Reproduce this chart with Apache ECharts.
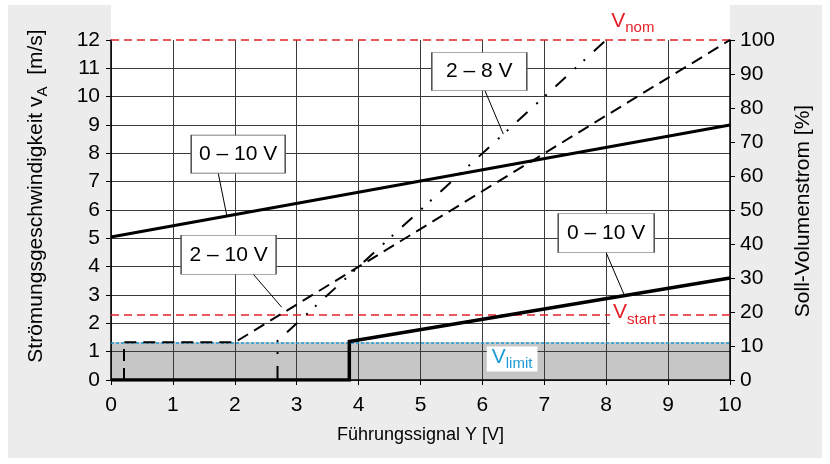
<!DOCTYPE html>
<html><head><meta charset="utf-8">
<script src="https://cdn.jsdelivr.net/npm/echarts@6/dist/echarts.min.js"></script>
<style>html,body{margin:0;padding:0;background:#fff}#c{width:830px;height:464px}</style>
</head><body><div id="c"></div>
<script>
// ---- data ----
const upper010 = [[0, 5.05], [10, 9.0]];
const lower010 = [[0, 0], [3.85, 0], [3.85, 1.36], [10, 3.6]];
const range210 = [[0.21, 0], [0.21, 1.33], [2, 1.33], [10, 12]];
const range28 = [[2.69, 0], [2.69, 1.38], [8, 12]];
const vLimit = 1.33;
const vStart = 2.3;
const vNom = 12;
const boxLabels = ['0 – 10 V', '2 – 8 V', '2 – 10 V', '0 – 10 V'];
const boxPos = [[2.055, 7.97], [5.95, 10.89], [1.90, 4.42], [8.0, 5.19]];
const leaders = [
  [[1.733, 7.29], [1.869, 5.82]],
  [[6.042, 10.21], [6.338, 8.68]],
  [[2.30, 3.73], [2.758, 2.566]],
  [[8.0, 4.49], [8.30, 2.96]]
];
const vLabelPos = { nom: [8.43, 12.61], start: [8.46, 2.31], limit: [6.48, 0.74] };

// ---- style ----
const FONT = '"Liberation Sans", Arial, Helvetica, sans-serif';
const RED = '#e42028';
const BLUE = '#1b9bd8';
const boxSizes = [[94, 38], [95, 38], [95, 39], [96, 39]];

function subRich(color) {
  return {
    v: { fontSize: 21, color: color, fill: color, fontFamily: FONT, padding: [0, 0, 4, 0] },
    s: { fontSize: 15, color: color, fill: color, fontFamily: FONT, lineHeight: 15, verticalAlign: 'bottom' }
  };
}

const chart = echarts.init(document.getElementById('c'), null, { renderer: 'canvas' });
const axisLbl = { color: '#000', fontSize: 21, fontFamily: FONT };

const option = {
  backgroundColor: '#fff',
  animation: false,
  textStyle: { fontFamily: FONT },
  graphic: [
    { id: 'panel', type: 'rect', z: -100, silent: true, shape: { x: 8, y: 5, width: 814, height: 453 }, style: { fill: '#ececec' } },
    { id: 'plotbg', type: 'rect', z: -99, silent: true, shape: { x: 111, y: 0, width: 619, height: 380 }, style: { fill: '#ffffff' } },
    {
      id: 'yname', type: 'text', z: 10, x: 38, y: 196, rotation: Math.PI / 2, silent: true,
      style: {
        text: '{v|Strömungsgeschwindigkeit v}{s|A}{v|  [m/s]}',
        rich: subRich('#000'), align: 'center', verticalAlign: 'middle'
      }
    },
    {
      id: 'y2name', type: 'text', z: 10, x: 803, y: 211, rotation: Math.PI / 2, silent: true,
      style: { text: 'Soll-Volumenstrom [%]', font: '21px ' + FONT, fill: '#000', align: 'center', verticalAlign: 'middle' }
    }
  ],
  grid: { left: 111, right: 100, top: 40, bottom: 84, containLabel: false, outerBoundsMode: 'none' },
  xAxis: {
    type: 'value', min: 0, max: 10, interval: 1,
    axisLine: { show: true, onZero: false, lineStyle: { color: '#000', width: 1.5 } },
    axisTick: { show: true, length: 5, lineStyle: { color: '#000', width: 1 } },
    axisLabel: Object.assign({ margin: 15 }, axisLbl),
    splitLine: { show: true, lineStyle: { color: '#3a3a3a', width: 1 } },
    name: 'Führungssignal Y [V]', nameLocation: 'middle', nameGap: 46,
    nameTextStyle: { fontSize: 18, color: '#000', fontFamily: FONT }
  },
  yAxis: [
    {
      type: 'value', min: 0, max: 12, interval: 1, position: 'left',
      axisLine: { show: true, lineStyle: { color: '#000', width: 1.5 } },
      axisTick: { show: true, length: 5, lineStyle: { color: '#000', width: 1 } },
      axisLabel: Object.assign({ margin: 11 }, axisLbl),
      splitLine: { show: true, showMaxLine: false, lineStyle: { color: '#3a3a3a', width: 1 } }
    },
    {
      type: 'value', min: 0, max: 100, interval: 10, position: 'right',
      axisLine: { show: true, lineStyle: { color: '#000', width: 1.5 } },
      axisTick: { show: true, length: 5, lineStyle: { color: '#000', width: 1 } },
      axisLabel: Object.assign({ margin: 10 }, axisLbl),
      splitLine: { show: false }
    }
  ],
  series: [
    {
      name: 'band', type: 'line', z: -1, silent: true, symbol: 'none',
      data: [[0, vLimit], [10, vLimit]],
      lineStyle: { width: 0 },
      areaStyle: { color: '#c6c6c6', opacity: 1 }
    },
    {
      name: 'refs', type: 'line', data: [], silent: true, z: 1,
      markLine: {
        z: 1, silent: true, symbol: 'none', label: { show: false }, animation: false,
        data: [
          { yAxis: vNom, lineStyle: { color: RED, type: [8, 5], width: 1.5 } },
          { yAxis: vStart, lineStyle: { color: RED, type: [8, 5], width: 1.5 } },
          { yAxis: vLimit, lineStyle: { color: BLUE, type: [3, 2], width: 1.5 } }
        ]
      }
    },
    {
      name: '2-10', type: 'line', symbol: 'none', data: range210, z: 3,
      lineStyle: { color: '#000', width: 2, type: [12, 7], cap: 'butt', join: 'miter' }
    },
    {
      name: '2-8', type: 'line', symbol: 'none', data: range28, z: 3,
      lineStyle: { color: '#000', width: 2, type: [14, 12, 2, 10, 2, 12], cap: 'butt', join: 'miter' }
    },
    {
      name: '0-10 low', type: 'line', symbol: 'none', data: lower010, z: 3,
      lineStyle: { color: '#000', width: 3.5, join: 'miter' }
    },
    {
      name: '0-10 up', type: 'line', symbol: 'none', data: upper010, z: 3,
      lineStyle: { color: '#000', width: 3 }
    },
    {
      name: 'annot', type: 'line', data: [], silent: true, z: 5, clip: false,
      markLine: {
        z: 5, silent: true, symbol: 'none', animation: false, label: { show: false },
        lineStyle: { color: '#000', width: 1, type: 'solid' },
        data: leaders.map(l => [{ coord: l[0] }, { coord: l[1] }])
      },
      markPoint: {
        z: 6, silent: true, animation: false,
        data: boxLabels.map((t, i) => ({
          coord: boxPos[i], symbol: 'rect', symbolSize: boxSizes[i],
          itemStyle: { color: '#fff', borderColor: '#555', borderWidth: 1 },
          label: { show: true, position: 'inside', formatter: t, color: '#000', fontSize: 21, fontFamily: FONT }
        })).concat([
          {
            coord: vLabelPos.start, symbol: 'rect', symbolSize: 1, itemStyle: { color: 'transparent' },
            label: { show: true, position: 'inside', formatter: '{v|V}{s|start}', rich: subRich(RED), backgroundColor: '#fff', padding: [0, 3] }
          },
          {
            coord: vLabelPos.limit, symbol: 'rect', symbolSize: 1, itemStyle: { color: 'transparent' },
            label: { show: true, position: 'inside', formatter: '{v|V}{s|limit}', rich: subRich(BLUE), backgroundColor: '#fff', padding: [0, 5] }
          }
        ])
      }
    }
  ]
};
chart.setOption(option);

// V_nom label sits above the plot range, so place it via the axis scales
const nomPx = chart.convertToPixel({ gridIndex: 0 }, vLabelPos.nom);
chart.setOption({
  graphic: [{
    id: 'vnom', type: 'text', z: 10, silent: true, x: nomPx[0], y: nomPx[1],
    style: { text: '{v|V}{s|nom}', rich: subRich(RED), align: 'center', verticalAlign: 'middle' }
  }]
});
</script>
</body></html>
